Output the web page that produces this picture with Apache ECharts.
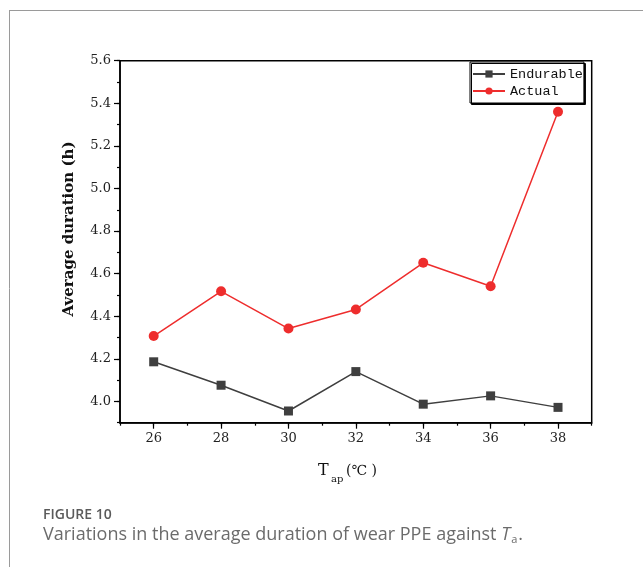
<!DOCTYPE html>
<html>
<head>
<meta charset="utf-8">
<script src="https://cdn.jsdelivr.net/npm/echarts@6/dist/echarts.min.js"></script>
<style>
  html, body { margin: 0; padding: 0; background: #fff; }
  #chart { width: 643px; height: 567px; }
</style>
</head>
<body>
<div id="chart"></div>
<script>
// Ambient temperature (°C) and average wearing duration (h)
const temperatures = [26, 28, 30, 32, 34, 36, 38];
const endurable = [4.186, 4.076, 3.955, 4.140, 3.987, 4.026, 3.972];
const actual = [4.307, 4.517, 4.342, 4.432, 4.651, 4.541, 5.360];
const seriesNames = ['Endurable', 'Actual'];
const xTickLabels = [26, 28, 30, 32, 34, 36, 38];
const yTickLabels = ['4.0', '4.2', '4.4', '4.6', '4.8', '5.0', '5.2', '5.4', '5.6'];

// Axis ranges (full frame) and labelled range
const X_MIN = 25, X_MAX = 39;
const Y_MIN = 3.9, Y_MAX = 5.6;
const X_LAB_MIN = xTickLabels[0], X_LAB_MAX = xTickLabels[xTickLabels.length - 1];
const Y_LAB_MIN = parseFloat(yTickLabels[0]), Y_LAB_MAX = parseFloat(yTickLabels[yTickLabels.length - 1]);

// Plot frame in pixels
const W = 643, H = 567;
const box = { left: 120, top: 60.7, width: 471.7, height: 362 };
const pxPerX = box.width / (X_MAX - X_MIN);
const pxPerY = box.height / (Y_MAX - Y_MIN);

// Inner grid that carries the labelled (major) ticks
const inner = {
  left: box.left + (X_LAB_MIN - X_MIN) * pxPerX,
  width: (X_LAB_MAX - X_LAB_MIN) * pxPerX,
  top: box.top + (Y_MAX - Y_LAB_MAX) * pxPerY,
  height: (Y_LAB_MAX - Y_LAB_MIN) * pxPerY
};
const xOffset = (box.top + box.height) - (inner.top + inner.height);
const yOffset = inner.left - box.left;

const serif = 'DejaVu Serif';
const axisColor = '#000';
const labelColor = '#222';
const captionFont = 'Open Sans';
const captionColor = '#6b6b6b';
const captionText = 'Variations in the average duration of wear PPE against ';

const chart = echarts.init(document.getElementById('chart'), null, { renderer: 'canvas' });

// width of the caption sentence, to place the italic symbol after it
const probe = document.createElement('canvas').getContext('2d');
probe.font = '18px "' + captionFont + '"';
const capStart = 43;
const capWidth = probe.measureText(captionText).width;

const option = {
  animation: false,
  backgroundColor: '#fff',
  grid: [
    { left: box.left, top: box.top, width: box.width, height: box.height,
      show: true, borderColor: axisColor, borderWidth: 1.5, backgroundColor: 'transparent' },
    { left: inner.left, top: inner.top, width: inner.width, height: inner.height }
  ],
  xAxis: [
    { type: 'value', gridIndex: 0, min: X_MIN, max: X_MAX, interval: 1,
      axisLine: { show: true, lineStyle: { color: axisColor, width: 1.5 } },
      axisTick: { show: true, inside: false, length: 3, lineStyle: { color: axisColor, width: 1.2 } },
      axisLabel: { show: false }, splitLine: { show: false } },
    { type: 'value', gridIndex: 1, min: X_LAB_MIN, max: X_LAB_MAX, interval: 2,
      offset: xOffset,
      axisLine: { show: false },
      axisTick: { show: true, inside: false, length: 6, lineStyle: { color: axisColor, width: 1.2 } },
      axisLabel: { show: true, margin: 9, color: labelColor, fontFamily: serif, fontSize: 13 },
      splitLine: { show: false } }
  ],
  yAxis: [
    { type: 'value', gridIndex: 0, min: Y_MIN, max: Y_MAX, interval: 0.1,
      axisLine: { show: true, lineStyle: { color: axisColor, width: 1.5 } },
      axisTick: { show: true, inside: false, length: 3, lineStyle: { color: axisColor, width: 1.2 } },
      axisLabel: { show: false }, splitLine: { show: false } },
    { type: 'value', gridIndex: 1, min: Y_LAB_MIN, max: Y_LAB_MAX, interval: 0.2,
      offset: yOffset,
      axisLine: { show: false },
      axisTick: { show: true, inside: false, length: 6, lineStyle: { color: axisColor, width: 1.2 } },
      axisLabel: { show: true, margin: 9, color: labelColor, fontFamily: serif, fontSize: 13,
                   formatter: v => v.toFixed(1) },
      splitLine: { show: false } }
  ],
  legend: {
    data: seriesNames,
    orient: 'vertical',
    left: 470, top: 62,
    padding: [4, 1, 4, 2],
    itemWidth: 32, itemHeight: 9, itemGap: 1,
    borderColor: '#000', borderWidth: 1,
    backgroundColor: '#fff',
    shadowColor: '#000', shadowBlur: 0, shadowOffsetX: 1.5, shadowOffsetY: 1.5,
    textStyle: { fontFamily: 'Liberation Mono', fontSize: 13.5, lineHeight: 16, color: '#111' }
  },
  series: [
    { name: seriesNames[0], type: 'line', xAxisIndex: 0, yAxisIndex: 0,
      data: temperatures.map((t, i) => [t, endurable[i]]),
      symbol: 'rect', symbolSize: 9,
      itemStyle: { color: '#3f3f3f' },
      lineStyle: { color: '#3f3f3f', width: 1.5 } },
    { name: seriesNames[1], type: 'line', xAxisIndex: 0, yAxisIndex: 0,
      data: temperatures.map((t, i) => [t, actual[i]]),
      symbol: 'circle', symbolSize: 10,
      itemStyle: { color: '#ee2d2d' },
      lineStyle: { color: '#ee2d2d', width: 1.5 } }
  ],
  graphic: [
    // outer frame of the figure panel
    { type: 'line', shape: { x1: 9, y1: 10.5, x2: W, y2: 10.5 }, style: { stroke: '#9a9a9a', lineWidth: 1 } },
    { type: 'line', shape: { x1: 9.5, y1: 10, x2: 9.5, y2: H }, style: { stroke: '#9a9a9a', lineWidth: 1 } },
    // y-axis title
    { type: 'text', x: 69, y: 229, rotation: Math.PI / 2,
      style: { text: 'Average duration (h)', fontFamily: serif, fontWeight: 'bold', fontSize: 15,
               fill: '#111', align: 'center', verticalAlign: 'middle' } },
    // x-axis title: T with subscript ap
    { type: 'text', x: 318, y: 471,
      style: { text: 'T', fontFamily: serif, fontSize: 16, fill: '#111', align: 'left', verticalAlign: 'middle' } },
    { type: 'text', x: 331, y: 479,
      style: { text: 'ap', fontFamily: serif, fontSize: 10, fill: '#111', align: 'left', verticalAlign: 'middle' } },
    { type: 'text', x: 346, y: 471,
      style: { text: '(℃ )', fontFamily: serif, fontSize: 14, fill: '#111', align: 'left', verticalAlign: 'middle' } },
    // caption
    { type: 'text', x: 43, y: 515,
      style: { text: 'FIGURE 10', fontFamily: captionFont, fontWeight: 600, fontSize: 14, fill: '#5a5a5a',
               align: 'left', verticalAlign: 'middle' } },
    { type: 'text', x: capStart, y: 535,
      style: { text: captionText, fontFamily: captionFont,
               fontSize: 18, fill: captionColor, align: 'left', verticalAlign: 'middle' } },
    { type: 'text', x: capStart + capWidth, y: 535,
      style: { text: 'T', fontFamily: captionFont, fontStyle: 'italic', fontSize: 18, fill: captionColor,
               align: 'left', verticalAlign: 'middle' } },
    { type: 'text', x: capStart + capWidth + 10, y: 540,
      style: { text: 'a', fontFamily: captionFont, fontSize: 11, fill: captionColor, align: 'left', verticalAlign: 'middle' } },
    { type: 'text', x: capStart + capWidth + 17, y: 535,
      style: { text: '.', fontFamily: captionFont, fontSize: 18, fill: captionColor, align: 'left', verticalAlign: 'middle' } }
  ]
};

chart.setOption(option);
</script>
</body>
</html>
